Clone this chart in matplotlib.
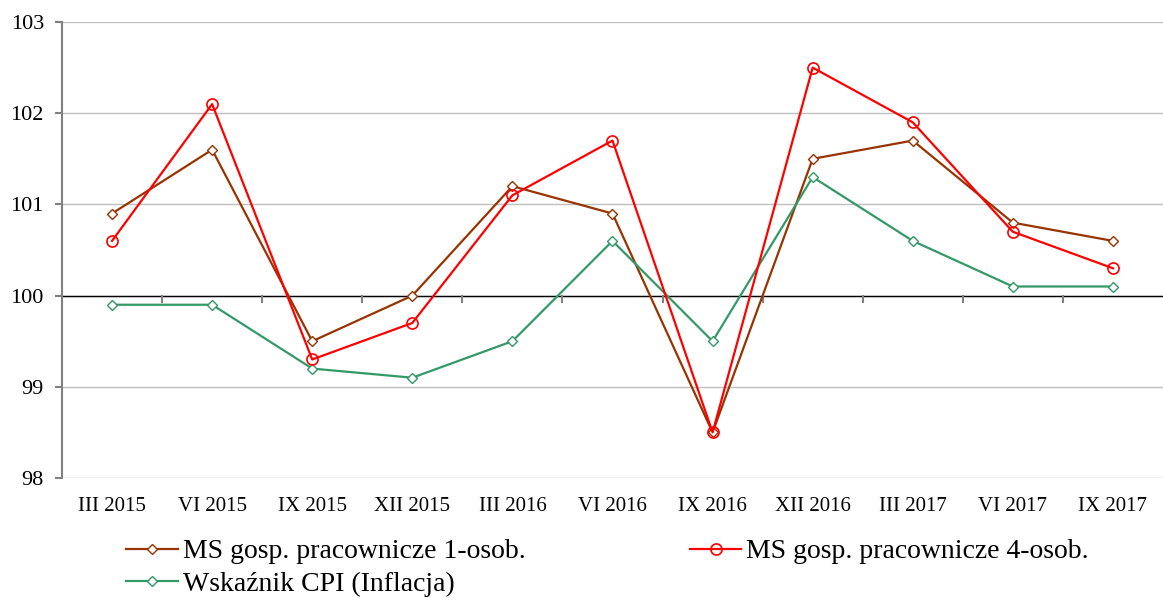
import matplotlib
matplotlib.use("Agg")
import matplotlib.pyplot as plt
import numpy as np

categories = ["III 2015", "VI 2015", "IX 2015", "XII 2015", "III 2016", "VI 2016",
              "IX 2016", "XII 2016", "III 2017", "VI 2017", "IX 2017"]
ms1 = [100.9, 101.6, 99.5, 100.0, 101.2, 100.9, 98.5, 101.5, 101.7, 100.8, 100.6]
ms4 = [100.6, 102.1, 99.3, 99.7, 101.1, 101.7, 98.5, 102.5, 101.9, 100.7, 100.3]
cpi = [99.9, 99.9, 99.2, 99.1, 99.5, 100.6, 99.5, 101.3, 100.6, 100.1, 100.1]
labels = ["MS gosp. pracownicze 1-osob.", "MS gosp. pracownicze 4-osob.", "Wskaźnik CPI (Inflacja)"]
yticks = [98, 99, 100, 101, 102, 103]

plt.rcParams['font.family'] = ['Liberation Serif', 'DejaVu Serif']

fig = plt.figure(figsize=(11.63, 6.0), dpi=100)
ax = fig.add_axes([0.0533, 0.2033, 0.9467, 0.76])
x = np.arange(len(categories))

l1, = ax.plot(x, ms1, color='#993300', lw=1.6, marker='D', ms=5.5, mfc='white', mec='#993300', mew=1.0, zorder=3)
l2, = ax.plot(x, ms4, color='#FF0000', lw=1.6, marker='o', ms=8, mfc='none', mec='#FF0000', mew=1.2, zorder=4)
l3, = ax.plot(x, cpi, color='#339966', lw=1.6, marker='D', ms=5.5, mfc='white', mec='#339966', mew=1.0, zorder=3)

ax.set_xlim(-0.5, len(categories) - 0.5)
ax.set_ylim(yticks[0], yticks[-1])
ax.set_yticks(yticks)
ax.yaxis.grid(True, color='#BFBFBF', lw=1.0)
ax.set_axisbelow(True)
ax.axhline(100, color='black', lw=1.0, zorder=2)
# category boundary ticks on the 100 line
for b in np.arange(0.5, len(categories) - 0.5, 1.0):
    ax.plot([b, b], [100, 100 - 0.07], color='#808080', lw=1.5, zorder=2, clip_on=False)

ax.set_xticks(x)
ax.set_xticklabels(categories, fontsize=15)
ax.tick_params(axis='x', length=0, pad=14)
ax.tick_params(axis='y', labelsize=16, length=5, color='#808080', width=1.5, direction='out', pad=8)
for s in ['top', 'right', 'bottom']:
    ax.spines[s].set_visible(False)
ax.spines['left'].set_color('#808080')
ax.spines['left'].set_linewidth(1.5)

fig.legend([l1, l3, l2], [labels[0], labels[2], labels[1]], loc='upper left',
           bbox_to_anchor=(0.1083, 0.1017), ncol=2,
           frameon=False, fontsize=20, handlelength=1.87, handletextpad=0.18,
           columnspacing=5.9, labelspacing=0.26, borderaxespad=0, borderpad=0)

fig.savefig("out.png", dpi=100)
